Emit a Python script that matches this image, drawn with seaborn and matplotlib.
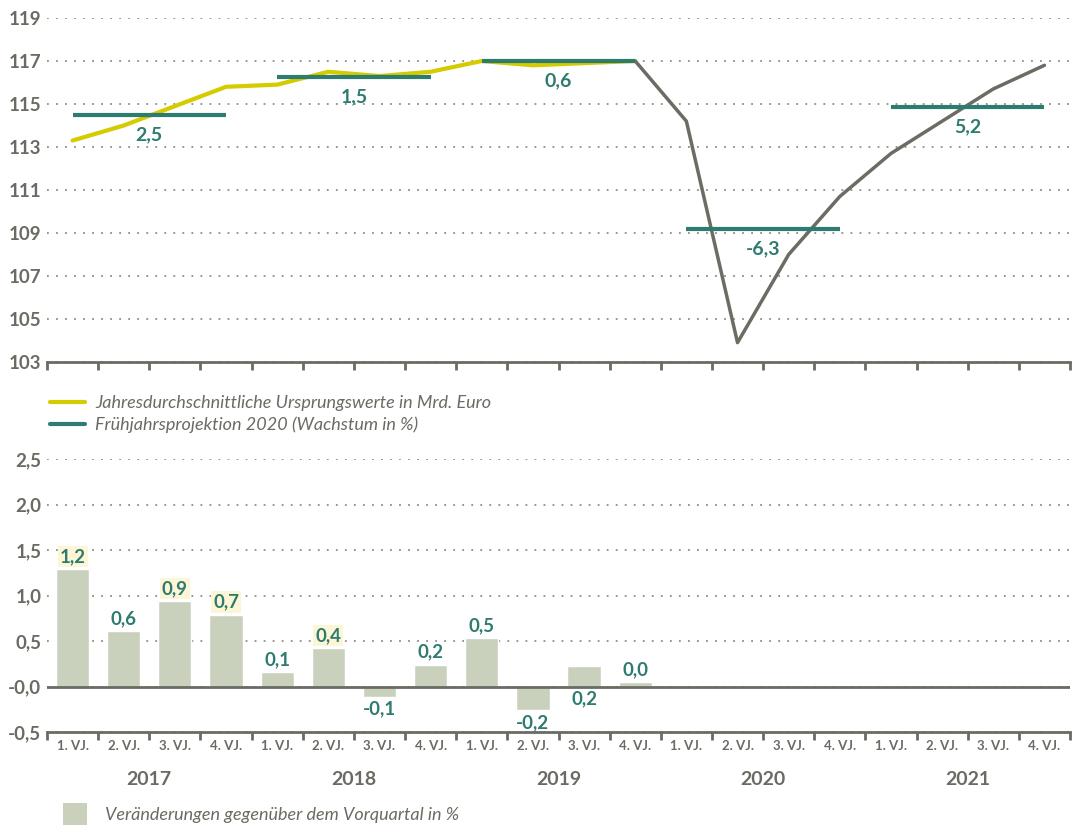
import matplotlib
matplotlib.use("Agg")
import matplotlib.pyplot as plt
import matplotlib.transforms as mtransforms
from matplotlib.lines import Line2D
from matplotlib.patches import Patch
import numpy as np
import pandas as pd
import seaborn as sns

# --- data -------------------------------------------------------------
quarters = ["1. VJ.", "2. VJ.", "3. VJ.", "4. VJ."] * 5
years = ["2017", "2018", "2019", "2020", "2021"]

# Jahresdurchschnittliche Ursprungswerte (1. VJ. 2017 bis 4. VJ. 2019)
level_actual = [113.3, 114.0, 114.9, 115.8, 115.9, 116.5, 116.3, 116.5,
                117.0, 116.8, 116.9, 117.0]
# Verlauf der Projektion (4. VJ. 2019 bis 4. VJ. 2021)
level_projection = [117.0, 114.2, 103.9, 108.0, 110.7, 112.7, 114.2, 115.7, 116.8]
# Frühjahrsprojektion 2020, Jahresniveaus und Wachstum
projection_avg = [114.5, 116.25, 117.0, 109.2, 114.85]
growth_labels = ["2,5", "1,5", "0,6", "-6,3", "5,2"]

# Veränderungen gegenüber dem Vorquartal
qoq_change = [1.29, 0.61, 0.94, 0.79, 0.16, 0.42, -0.11, 0.24, 0.53, -0.26, 0.22, 0.05]
qoq_labels = ["1,2", "0,6", "0,9", "0,7", "0,1", "0,4", "-0,1", "0,2", "0,5", "-0,2", "0,2", "0,0"]

top_yticks = [103, 105, 107, 109, 111, 113, 115, 117, 119]
bottom_yticks = [-0.5, 0.0, 0.5, 1.0, 1.5, 2.0, 2.5]
bottom_yticklabels = ["-0,5", "-0,0", "0,5", "1,0", "1,5", "2,0", "2,5"]

# --- style ------------------------------------------------------------
YELLOW = "#d4cb00"
TEAL = "#2e7b6f"
GREY = "#6c6c64"
BAR = "#c9d1bc"
AXIS = "#6b6b63"
HIGHLIGHT = "#fdf6d6"

sns.set_theme(style="white")
plt.rcParams["font.family"] = ["Lato", "DejaVu Sans"]

W, H = 1077, 830
fig = plt.figure(figsize=(W / 100, H / 100), dpi=100)
ax1 = fig.add_axes([47 / W, 1 - 362 / H, 1023 / W, 344 / H])
ax2 = fig.add_axes([47 / W, 1 - 732 / H, 1023 / W, 273 / H])

grid_kw = dict(color="#8d8d85", linestyle=(0, (1, 4)), linewidth=1.3)


def style_axis(ax):
    for side in ["left", "right", "top"]:
        ax.spines[side].set_visible(False)
    ax.spines["bottom"].set_color(AXIS)
    ax.spines["bottom"].set_linewidth(2)
    ax.set_xlim(-0.5, 19.5)
    ax.set_xticks(np.arange(-0.5, 20, 1))
    ax.set_xticklabels([])
    ax.tick_params(axis="x", which="major", length=6, width=2, color=AXIS,
                   direction="out", bottom=True)
    ax.tick_params(axis="y", length=0, pad=4, labelsize=13.5, labelcolor=AXIS)
    ax.set_xlabel("")
    ax.set_ylabel("")
    ax.yaxis.grid(True, **grid_kw)
    ax.xaxis.grid(False)
    ax.set_axisbelow(True)


# --- top: level chart ---------------------------------------------------
sns.lineplot(x=list(range(len(level_actual))), y=level_actual, ax=ax1,
             color=YELLOW, linewidth=3, zorder=3)
start = len(level_actual) - 1
sns.lineplot(x=list(range(start, start + len(level_projection))), y=level_projection,
             ax=ax1, color=GREY, linewidth=2.5, zorder=3)

for i, (v, lab) in enumerate(zip(projection_avg, growth_labels)):
    ax1.hlines(v, 4 * i, 4 * i + 3, color=TEAL, linewidth=3, zorder=4)
    ax1.annotate(lab, (4 * i + 1.5, v), xytext=(0, -8), textcoords="offset points",
                 ha="center", va="top", color=TEAL, fontsize=14, fontweight="bold")

ax1.set_ylim(103, 119)
ax1.set_yticks(top_yticks)
ax1.set_yticklabels([str(t) for t in top_yticks], fontweight="bold")
style_axis(ax1)

fig.legend(handles=[Line2D([], [], color=YELLOW, lw=3), Line2D([], [], color=TEAL, lw=3)],
           labels=["Jahresdurchschnittliche Ursprungswerte in Mrd. Euro",
                   "Frühjahrsprojektion 2020 (Wachstum in %)"],
           loc="upper left", bbox_to_anchor=(34 / W, 1 - 379 / H), frameon=False,
           handlelength=1.9, handletextpad=0.6, labelspacing=0.3,
           prop=dict(style="italic", size=13), labelcolor=AXIS)

# --- bottom: quarterly change bars --------------------------------------
df = pd.DataFrame({"pos": range(len(qoq_change)), "val": qoq_change})
sns.barplot(data=df, x="pos", y="val", native_scale=True, width=0.65, color=BAR,
            saturation=1, ax=ax2, zorder=2)
ax2.axhline(0, color=AXIS, linewidth=2, zorder=3)

below = {10}  # label drawn under the zero line in the original
for i, (v, lab) in enumerate(zip(qoq_change, qoq_labels)):
    if v >= 0 and i not in below:
        y, off, va = v, 3, "bottom"
        centre = v + 0.14
    else:
        y, off, va = min(v, 0), -3, "top"
        centre = None
    box = None
    if centre is not None:
        d = abs(centre - round(centre * 2) / 2)
        if d < 0.1 and round(centre * 2) != 0:
            box = dict(facecolor=HIGHLIGHT, edgecolor="none", pad=1.5)
    ax2.annotate(lab, (i, y), xytext=(0, off), textcoords="offset points",
                 ha="center", va=va, color=TEAL, fontsize=13.5, fontweight="bold",
                 bbox=box, zorder=5)

ax2.set_ylim(-0.5, 2.5)
ax2.set_yticks(bottom_yticks)
ax2.set_yticklabels(bottom_yticklabels, fontweight="bold")
style_axis(ax2)
ax2.set_xticks(range(20), minor=True)
ax2.set_xticklabels(quarters, minor=True, fontsize=9.5, fontweight="bold", color=AXIS)
ax2.tick_params(axis="x", which="minor", length=0, pad=6)

trans = mtransforms.blended_transform_factory(ax2.transData, ax2.transAxes)
for i, yr in enumerate(years):
    ax2.text(4 * i + 1.5, -0.175, yr, transform=trans, ha="center", va="center",
             fontsize=14, fontweight="bold", color=AXIS)

fig.legend(handles=[Patch(facecolor=BAR, edgecolor="none")],
           labels=["Veränderungen gegenüber dem Vorquartal in %"],
           loc="center left", bbox_to_anchor=(47 / W, 1 - 814 / H), frameon=False,
           handlelength=1.3, handleheight=1.5, handletextpad=1.0,
           prop=dict(style="italic", size=13), labelcolor=AXIS)

fig.savefig("out.png", dpi=100)
